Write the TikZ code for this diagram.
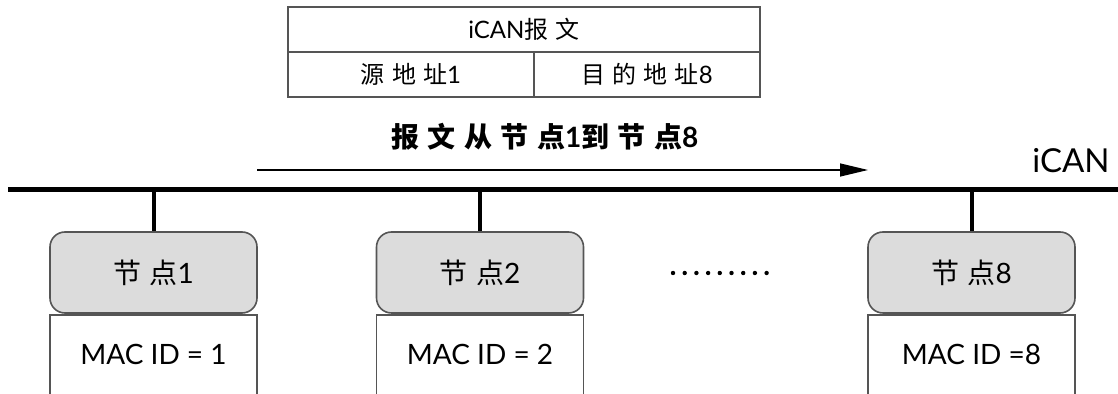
\documentclass[tikz,border=0pt]{standalone}
\usepackage{fontspec}
\setmainfont{Lato}
\newfontfamily\cjk[LetterSpace=30]{Noto Sans CJK SC}
\usetikzlibrary{arrows.meta}
\definecolor{edgegray}{HTML}{555555}
\definecolor{nodefill}{HTML}{DCDCDC}
\tikzset{
  cell/.style={draw=edgegray, line width=0.8pt, minimum height=22.5pt, inner sep=0pt, font=\fontsize{12}{14}\selectfont},
  nodebox/.style={draw=edgegray, fill=nodefill, line width=0.8pt, rounded corners=7.5pt,
    minimum width=103.5pt, minimum height=40.5pt, inner sep=0pt, font=\fontsize{14}{16}\selectfont},
  macbox/.style={draw=edgegray, fill=white, line width=0.8pt, minimum width=103.5pt,
    inner xsep=0pt, inner ysep=15pt, text height=10pt, text depth=25pt, anchor=base,
    font=\fontsize{14}{16}\selectfont},
  busline/.style={line width=2.5pt},
  drop/.style={line width=2pt},
  flow/.style={line width=0.7pt, -{Triangle[length=14pt,width=6.5pt]}}
}
\begin{document}
\begin{tikzpicture}[x=0.5pt,y=-0.5pt]
\useasboundingbox (0,0) rectangle (1118,394);
\clip (0,0) rectangle (1118,394);
% message table
\node[cell, minimum width=236pt] (hdr) at (524,29.5) {iCAN{\cjk 报文}};
\node[cell, minimum width=123pt] (src) at (411,74.5) {{\cjk 源地址}1};
\node[cell, minimum width=113pt] (dst) at (647,74.5) {{\cjk 目的地址}8};
% flow label and arrow
\node[font=\fontsize{14}{16}\selectfont\bfseries] (flowlbl) at (545,137) {{\cjk 报文从节点}1{\cjk 到节点}8};
\coordinate (fs) at (257,170);
\coordinate (fe) at (868,170);
\draw[flow] (fs) -- (fe);
% bus
\coordinate (busL) at (8,190);
\coordinate (busR) at (1118,190);
\draw[busline] (busL) -- (busR);
\node[font=\fontsize{16.5}{18}\selectfont, anchor=base] (buslbl) at (1071,173) {iCAN};
% nodes
\node[macbox] (m1) at (153.5,365) {MAC ID = 1};
\node[macbox] (m2) at (480,365) {MAC ID = 2};
\node[macbox] (m8) at (971.5,365) {MAC ID =8};
\node[nodebox] (n1) at (153.5,272.5) {{\cjk 节点}1};
\node[nodebox] (n2) at (480,272.5) {{\cjk 节点}2};
\node[nodebox] (n8) at (971.5,272.5) {{\cjk 节点}8};
\draw[drop] (n1.north |- busL) -- (n1.north);
\draw[drop] (n2.north |- busL) -- (n2.north);
\draw[drop] (n8.north |- busL) -- (n8.north);
% ellipsis dots
\foreach \i in {0,...,8} \fill (673+\i*11.7,273) circle (1.1pt);
\end{tikzpicture}
\end{document}
